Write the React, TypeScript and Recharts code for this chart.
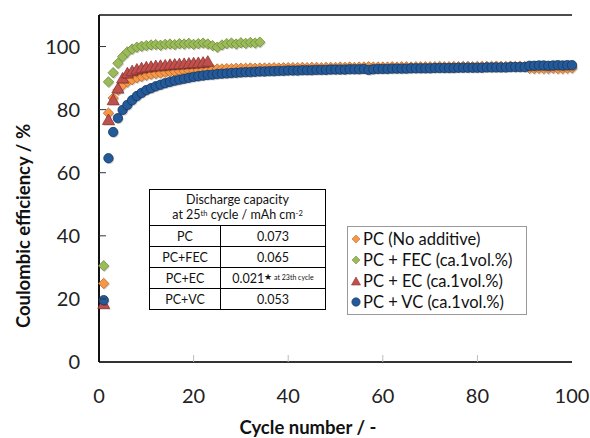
import { ScatterChart, Scatter, XAxis, YAxis, ReferenceLine } from 'recharts'

const FONT = 'Lato, "Open Sans", sans-serif'

const xTicks = [0, 20, 40, 60, 80, 100]
const yTicks = [0, 20, 40, 60, 80, 100]

// Coulombic efficiency (%) per cycle, starting at cycle 1
const pcValues = [
  24.9, 78.9, 83.7, 86.2, 87.8, 88.8, 89.5, 90.1, 90.5, 90.9,
  91.2, 91.4, 91.6, 91.8, 92.0, 92.1, 92.2, 92.3, 92.4, 92.5,
  92.6, 92.7, 92.7, 92.8, 92.9, 92.9, 93.0, 93.0, 93.1, 93.1,
  93.1, 93.2, 93.1, 93.2, 93.2, 93.2, 93.3, 93.2, 93.3, 93.3,
  93.3, 93.3, 93.4, 93.3, 93.4, 93.4, 93.3, 93.4, 93.4, 93.4,
  93.5, 93.4, 93.5, 93.4, 93.5, 93.5, 93.6, 93.5, 93.5, 93.5,
  93.5, 93.6, 93.5, 93.6, 93.6, 93.5, 93.6, 93.6, 93.6, 93.6,
  93.6, 93.7, 93.6, 93.6, 93.7, 93.6, 93.7, 93.7, 93.6, 93.7,
  93.7, 93.7, 93.7, 93.8, 93.7, 93.7, 93.8, 93.7, 93.8, 93.7,
  93.1, 93.0, 93.1, 93.0, 93.0, 93.1, 93.0, 93.0, 93.1, 93.2,
]

const fecValues = [
  30.5, 88.8, 91.7, 94.7, 96.8, 98.3, 99.2, 99.8, 100.1, 100.3,
  100.5, 100.6, 100.4, 100.7, 100.8, 100.6, 100.9, 100.8, 101.0, 100.7,
  100.9, 101.1, 100.8, 100.3, 99.8, 100.5, 100.9, 101.1, 100.8, 101.2,
  101.0, 101.3, 101.1, 101.4,
]

const ecValues = [
  18.4, 76.7, 83.0, 86.7, 89.9, 91.5, 92.2, 92.7, 93.1, 93.4,
  93.6, 93.8, 93.9, 94.0, 94.2, 94.3, 94.4, 94.5, 94.6, 94.7,
  94.8, 94.9, 95.2,
]

const vcValues = [
  19.6, 64.6, 72.9, 77.3, 79.9, 81.5, 83.0, 84.3, 85.3, 86.2,
  86.8, 87.4, 87.9, 88.4, 88.8, 89.2, 89.5, 89.8, 90.1, 90.4,
  90.6, 90.8, 91.0, 91.1, 91.3, 91.4, 91.5, 91.6, 91.7, 91.8,
  91.9, 91.9, 92.0, 92.1, 92.1, 92.2, 92.2, 92.3, 92.3, 92.4,
  92.4, 92.4, 92.5, 92.5, 92.5, 92.6, 92.6, 92.6, 92.7, 92.7,
  92.7, 92.7, 92.8, 92.8, 92.8, 92.9, 92.6, 92.8, 92.9, 92.9,
  92.9, 93.0, 93.0, 93.0, 93.0, 93.1, 93.1, 93.1, 93.1, 93.1,
  93.2, 93.2, 93.2, 93.2, 93.2, 93.3, 93.3, 93.3, 93.3, 93.3,
  93.3, 93.4, 93.4, 93.4, 93.4, 93.4, 93.5, 93.5, 93.5, 93.5,
  93.9, 93.9, 94.0, 94.0, 93.9, 94.0, 94.1, 94.0, 94.1, 94.1,
]

const legendLabels = [
  'PC (No additive)',
  'PC + FEC (ca.1vol.%)',
  'PC + EC (ca.1vol.%)',
  'PC + VC (ca.1vol.%)',
]

const tableNames = ['PC', 'PC+FEC', 'PC+EC', 'PC+VC']
const tableValues = ['0.073', '0.065', '0.021', '0.053']

const toPoints = (vals: number[]) => vals.map((y, i) => ({ x: i + 1, y }))

const PLOT_LEFT = 99
const PLOT_BOTTOM = 362

const ORANGE = { fill: '#F79646', stroke: '#B8692A' }
const GREEN = { fill: '#9BBB59', stroke: '#6F8A3A' }
const RED = { fill: '#C0504D', stroke: '#8C3431' }
const BLUE = { fill: '#245A9A', stroke: '#17375E' }

type MarkProps = { cx?: number; cy?: number; fill: string; stroke: string }

function Diamond({ cx = 0, cy = 0, fill, stroke }: MarkProps) {
  const r = 5.2
  const pts = `${cx},${cy - r} ${cx + r},${cy} ${cx},${cy + r} ${cx - r},${cy}`
  return (
    <g>
      <polygon points={pts} transform="translate(1,1.2)" fill="#000" opacity={0.18} />
      <polygon points={pts} fill={fill} stroke={stroke} strokeWidth={0.8} />
    </g>
  )
}

function Triangle({ cx = 0, cy = 0, fill, stroke }: MarkProps) {
  const r = 6
  const pts = `${cx},${cy - r} ${cx + r},${cy + r * 0.75} ${cx - r},${cy + r * 0.75}`
  return (
    <g>
      <polygon points={pts} transform="translate(1,1.2)" fill="#000" opacity={0.18} />
      <polygon points={pts} fill={fill} stroke={stroke} strokeWidth={0.8} />
    </g>
  )
}

function Circle({ cx = 0, cy = 0, fill, stroke }: MarkProps) {
  return (
    <g>
      <circle cx={cx + 1} cy={cy + 1.2} r={4.7} fill="#000" opacity={0.18} />
      <circle cx={cx} cy={cy} r={4.7} fill={fill} stroke={stroke} strokeWidth={0.8} />
    </g>
  )
}

function XTick({ x, payload }: any) {
  const v = payload.value
  return (
    <g>
      {v !== 0 && v !== 100 && (
        <line x1={x} x2={x} y1={PLOT_BOTTOM} y2={PLOT_BOTTOM - 7} stroke="#bbb" strokeWidth={1} />
      )}
      <text x={x} y={PLOT_BOTTOM + 41} textAnchor="middle" fontSize={20} fill="#222" fontFamily={FONT}>
        {v}
      </text>
    </g>
  )
}

function YTick({ y, payload }: any) {
  const v = payload.value
  return (
    <g>
      {v !== 0 && (
        <line x1={PLOT_LEFT} x2={PLOT_LEFT + 7} y1={y} y2={y} stroke="#333" strokeWidth={1} />
      )}
      <text x={PLOT_LEFT - 19} y={y + 7} textAnchor="end" fontSize={20} fill="#222" fontFamily={FONT}>
        {v}
      </text>
    </g>
  )
}

function LegendIcon({ i }: { i: number }) {
  const colors = [ORANGE, GREEN, RED, BLUE][i]
  return (
    <svg width={10} height={10} style={{ marginRight: 2 }}>
      {i < 2 && <polygon points="5,1 9,5 5,9 1,5" fill={colors.fill} stroke={colors.stroke} strokeWidth={0.6} />}
      {i === 2 && <polygon points="5,1 9.5,9 0.5,9" fill={colors.fill} stroke={colors.stroke} strokeWidth={0.6} />}
      {i === 3 && <circle cx={5} cy={5} r={4.2} fill={colors.fill} stroke={colors.stroke} strokeWidth={0.6} />}
    </svg>
  )
}

const cell: React.CSSProperties = {
  border: '1px solid #000',
  textAlign: 'center',
  padding: 0,
  height: 20,
  fontSize: 12.5,
}

const sup: React.CSSProperties = {
  fontSize: 7.5,
  position: 'relative',
  top: -3,
  verticalAlign: 'baseline',
  lineHeight: 0,
}

export default function App() {
  return (
    <div
      style={{
        position: 'absolute',
        left: 0,
        top: 0,
        width: 590,
        height: 438,
        background: '#fff',
        fontFamily: FONT,
        color: '#111',
      }}
    >
      <ScatterChart width={590} height={438} margin={{ top: 15, right: 18, left: 0, bottom: 0 }}>
        <XAxis
          dataKey="x"
          type="number"
          domain={[0, 100]}
          ticks={xTicks}
          height={76}
          axisLine={{ stroke: '#333', strokeWidth: 2 }}
          tickLine={false}
          tick={<XTick />}
          interval={0}
        />
        <YAxis
          dataKey="y"
          type="number"
          domain={[0, 110]}
          ticks={yTicks}
          width={99}
          axisLine={{ stroke: '#111', strokeWidth: 2 }}
          tickLine={false}
          tick={<YTick />}
          interval={0}
        />
        <YAxis
          yAxisId="right"
          orientation="right"
          type="number"
          domain={[0, 110]}
          width={0}
          tick={false}
          tickLine={false}
          axisLine={{ stroke: '#111', strokeWidth: 2 }}
        />
        <ReferenceLine y={110} stroke="#111" strokeWidth={1.5} />
        <Scatter data={toPoints(pcValues)} isAnimationActive={false} shape={(p: any) => <Diamond cx={p.cx} cy={p.cy} {...ORANGE} />} />
        <Scatter data={toPoints(fecValues)} isAnimationActive={false} shape={(p: any) => <Diamond cx={p.cx} cy={p.cy} {...GREEN} />} />
        <Scatter data={toPoints(ecValues)} isAnimationActive={false} shape={(p: any) => <Triangle cx={p.cx} cy={p.cy} {...RED} />} />
        <Scatter data={toPoints(vcValues)} isAnimationActive={false} shape={(p: any) => <Circle cx={p.cx} cy={p.cy} {...BLUE} />} />
      </ScatterChart>

      {/* axis titles */}
      <div
        style={{
          position: 'absolute',
          left: 23,
          top: 226,
          transform: 'translate(-50%, -50%) rotate(-90deg)',
          whiteSpace: 'nowrap',
          fontWeight: 700,
          fontSize: 18.5,
        }}
      >
        Coulombic efficiency / %
      </div>
      <div
        style={{
          position: 'absolute',
          left: 308,
          top: 427,
          transform: 'translate(-50%, -50%)',
          whiteSpace: 'nowrap',
          fontWeight: 700,
          fontSize: 18.5,
        }}
      >
        Cycle number / -
      </div>

      {/* inset table */}
      <table
        style={{
          position: 'absolute',
          left: 149,
          top: 189,
          width: 177,
          borderCollapse: 'collapse',
          background: '#fff',
        }}
      >
        <tbody>
          <tr>
            <td colSpan={2} style={{ ...cell, height: 35 }}>
              <div style={{ lineHeight: '14px' }}>Discharge capacity</div>
              <div style={{ lineHeight: '14px', marginTop: 1 }}>
                at 25<span style={sup}>th</span> cycle / mAh cm<span style={sup}>-2</span>
              </div>
            </td>
          </tr>
          {tableNames.map((n, i) => (
            <tr key={n}>
              <td style={{ ...cell, width: 70 }}>{n}</td>
              <td style={cell}>
                {tableValues[i]}
                {n === 'PC+EC' && (
                  <>
                    <span style={{ ...sup, fontSize: 9 }}>★</span>
                    <span style={{ ...sup, fontSize: 7 }}> at 23th cycle</span>
                  </>
                )}
              </td>
            </tr>
          ))}
        </tbody>
      </table>

      {/* legend */}
      <div
        style={{
          position: 'absolute',
          left: 347,
          top: 226,
          width: 180,
          height: 89,
          border: '1px solid #999',
          background: '#fff',
          boxSizing: 'border-box',
          paddingTop: 1,
          paddingLeft: 3,
        }}
      >
        {legendLabels.map((l, i) => (
          <div key={l} style={{ display: 'flex', alignItems: 'center', height: 21, fontSize: 16.5 }}>
            <LegendIcon i={i} />
            {l}
          </div>
        ))}
      </div>
    </div>
  )
}
